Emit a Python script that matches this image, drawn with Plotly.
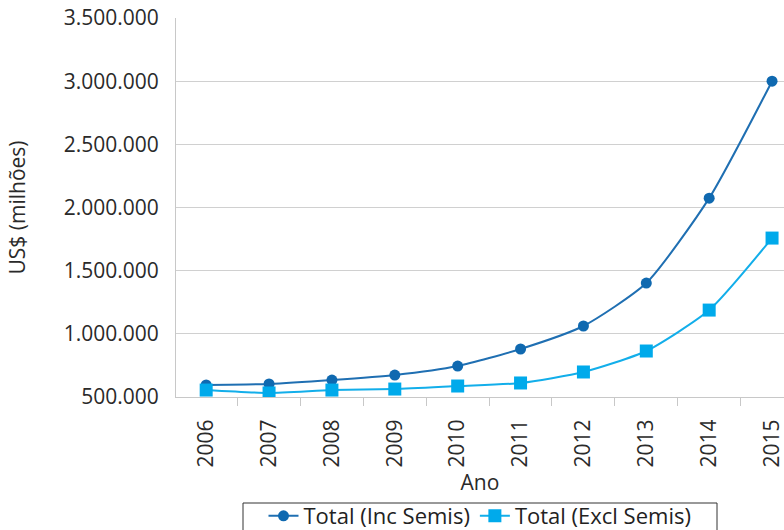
import plotly.graph_objects as go

anos = ["2006", "2007", "2008", "2009", "2010", "2011", "2012", "2013", "2014", "2015"]
inc_semis = [595000, 603000, 634000, 674000, 745000, 880000, 1062000, 1402000, 2074000, 3000000]
excl_semis = [555000, 532000, 555000, 563000, 587000, 611000, 698000, 864000, 1188000, 1758000]
y_ticks = [500000, 1000000, 1500000, 2000000, 2500000, 3000000, 3500000]

fig = go.Figure()
fig.add_trace(go.Scatter(
    x=anos, y=inc_semis, name="Total (Inc Semis)", mode="lines+markers",
    line=dict(color="#1f6fb2", width=2, shape="spline", smoothing=0.6),
    marker=dict(symbol="circle", size=11, color="#0f69b0"),
))
fig.add_trace(go.Scatter(
    x=anos, y=excl_semis, name="Total (Excl Semis)", mode="lines+markers",
    line=dict(color="#12aeea", width=2, shape="spline", smoothing=0.6),
    marker=dict(symbol="square", size=13, color="#00aaeb"),
))

# legend frame (bottom edge runs past the page like the reference)
fig.add_shape(type="rect", xref="paper", yref="paper",
              x0=(243 - 176) / 608, x1=(717 - 176) / 608,
              y0=(397 - 540) / 379, y1=(397 - 503) / 379,
              line=dict(color="#333333", width=1), fillcolor="rgba(0,0,0,0)", layer="above")

fig.update_layout(
    width=784, height=530,
    margin=dict(l=176, r=0, t=18, b=133, autoexpand=False),
    paper_bgcolor="white", plot_bgcolor="white",
    separators=",.",
    font=dict(family="Open Sans", size=21, color="#2a2a2a", weight=500),
    showlegend=True,
    legend=dict(
        orientation="h", x=0.5, xanchor="center", y=(397 - 495) / 379, yanchor="top",
        borderwidth=0, bgcolor="rgba(0,0,0,0)",
        font=dict(size=22, color="#222222", weight=500),
        tracegroupgap=0,
    ),
    xaxis=dict(
        type="category", range=[-0.48, 9.19],
        tickangle=-90, tickson="boundaries", ticks="outside", ticklen=8,
        tickcolor="#c8c8c8", showline=True, linecolor="#c8c8c8", linewidth=1,
        showgrid=False, automargin=False, ticklabelstandoff=13,
        title=dict(text="Ano", standoff=8, font=dict(size=21)),
        tickfont=dict(size=21),
    ),
    yaxis=dict(
        range=[500000, 3500000], tickvals=y_ticks, tickformat=",d",
        showgrid=True, gridcolor="#d0d0d0", gridwidth=1,
        showline=True, linecolor="#c8c8c8", linewidth=1,
        zeroline=False, ticks="", ticklabelstandoff=12, automargin=False,
        title=dict(text="US$ (milhões)", standoff=32, font=dict(size=21)),
        tickfont=dict(size=21),
    ),
)

fig.write_html("out.html")
